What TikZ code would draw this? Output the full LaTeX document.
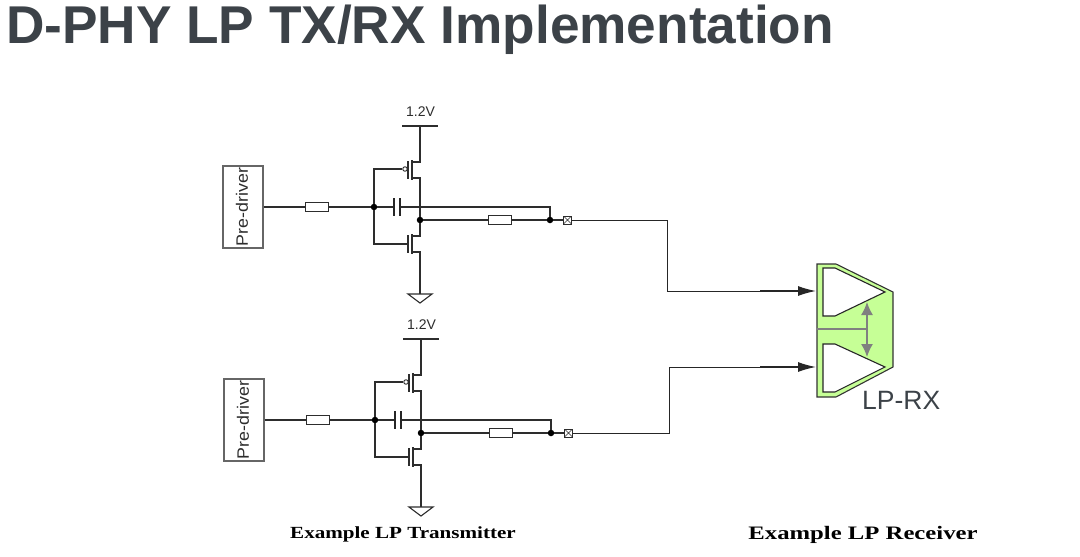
\documentclass[tikz,border=0pt]{standalone}
\usepackage{graphicx}
\usepackage{fontspec}
\setmainfont{Liberation Sans}
\newfontfamily\capfont{Liberation Serif}
\usetikzlibrary{arrows.meta}
\definecolor{c1}{RGB}{198,255,150}
\definecolor{c2}{RGB}{60,66,72}
\definecolor{c3}{RGB}{128,128,128}
\definecolor{c4}{RGB}{45,45,45}
\tikzset{
  wire/.style={c4,line width=1.1pt},
  res/.style={draw=c4,line width=1.1pt,fill=white,minimum width=23pt,minimum height=9pt,inner sep=0pt},
  dot/.style={circle,fill=black,minimum size=6.5pt,inner sep=0pt},
  plate/.style={fill=black!85,minimum width=2.5pt,minimum height=18pt,inner sep=0pt},
  bubble/.style={circle,draw=c4,line width=.9pt,fill=white,minimum size=4.5pt,inner sep=0pt},
  padbox/.style={draw=c4,line width=1pt,fill=white,minimum size=8pt,inner sep=0pt,
    path picture={\draw[c4,line width=.6pt] (path picture bounding box.north west) -- (path picture bounding box.south east)
      (path picture bounding box.north east) -- (path picture bounding box.south west);}},
  predrv/.style={draw=black!60,line width=1.2pt,fill=white,rotate=90,minimum width=82pt,minimum height=40pt,inner sep=0pt,
    font=\fontsize{16.5}{16.5}\selectfont,text=c4},
  thin wire/.style={black!85,line width=.9pt},
  sig/.style={black!85,line width=1.3pt,-{Latex[length=18pt,width=10pt]}},
  capt/.style={font=\capfont\bfseries,inner sep=0pt,anchor=base}
}
\begin{document}
\begin{tikzpicture}[x=1pt,y=-1pt]
  \useasboundingbox (0,0) rectangle (1080,557);
  \node[anchor=base west,inner sep=0pt,text=c2,font=\fontsize{53.2}{54}\selectfont\bfseries] (title) at (6,43) {D-PHY LP TX/RX Implementation};

  % transmitter cells
  \foreach \p/\dx/\dy in {t/0/0,b/1/213}{
    \begin{scope}[shift={(\dx,\dy)},name prefix=\p-]
      \node[predrv] (drv) at (243,207) {\raisebox{2pt}{\scalebox{1.08}[1]{Pre-driver}}};
      \node[res] (rin) at (317,207) {};
      \node[dot] (gn) at (374,207) {};
      \node[plate] (capl) at (394,207) {};
      \node[plate] (capr) at (400,207) {};
      \node[dot] (out) at (420,220) {};
      \node[res] (rout) at (500,220) {};
      \node[dot] (jn) at (550,220) {};
      \node[padbox] (pad) at (567.5,220) {};
      \node[bubble] (pg) at (405,169) {};
      \node[font=\fontsize{14}{14}\selectfont,text=c4,inner sep=0pt] (vlab) at (420.5,112) {1.2V};
      \coordinate (vdd) at (420,126);
      \coordinate (gnd) at (420,294);
      \coordinate (ng) at (408,244);
      \coordinate (ps) at (412,162);
      \coordinate (pd) at (412,178);
      \coordinate (ns) at (412,236);
      \coordinate (nd) at (412,252);

      \draw[wire] (drv) -- (rin);
      \draw[wire] (rin) -- (gn);
      \draw[wire] (gn) -- (capl);
      \draw[wire] (capr) -| (jn);
      \draw[wire] (gn) |- (pg);
      \draw[wire] (gn) |- (ng);
      \draw[wire] (out) -- (rout);
      \draw[wire] (rout) -- (jn);
      \draw[wire] (jn) -- (pad);

      \draw[wire] (vdd) ++(-18,0) -- ++(36,0);
      \draw[wire] (vdd) |- (ps);
      \draw[wire] (pd) -| (out);
      \draw[wire] (out) |- (ns);
      \draw[wire] (nd) -| (gnd);
      \draw[wire,line width=1.5pt] (412,160) -- (412,180);
      \draw[wire,line width=1.5pt] (408,161) -- (408,179);
      \draw[wire,line width=1.5pt] (412,234) -- (412,254);
      \draw[wire,line width=1.5pt] (408,235) -- (408,253);
      \draw[wire] (gnd) ++(-12,0) -- ++(24,0) -- ++(-12,9) -- cycle;
    \end{scope}
  }

  % LP receiver
  \draw[fill=c1,draw=black!80,line width=1.1pt] (817,264) -- (836,264) -- (893,292) -- (893,367) -- (836,397) -- (817,397) -- cycle;
  \draw[fill=white,draw=black!85,line width=1.1pt] (823,268) -- (835,268) -- (885,292) -- (835,316) -- (823,316) -- cycle;
  \draw[fill=white,draw=black!85,line width=1.1pt] (823,344) -- (835,344) -- (885,367) -- (835,392) -- (823,392) -- cycle;
  \coordinate (rxa) at (816,291);
  \coordinate (rxb) at (816,367);
  \coordinate (bar) at (867,329);
  \draw[c3,line width=1.4pt] (816,329) -- (bar);
  \draw[c3,line width=1.4pt,{Latex[length=13pt,width=12pt]}-{Latex[length=13pt,width=12pt]}] (867,302) -- (867,357);
  \node[anchor=west,inner sep=0pt,text=c2,font=\fontsize{26.5}{26.5}\selectfont] (rxlab) at (862,400) {LP-RX};

  \coordinate (wa) at (760,291);
  \coordinate (wb) at (760,367);
  \draw[thin wire] (t-pad) -| (667,291) -- (wa);
  \draw[thin wire] (b-pad) -| (669,367) -- (wb);
  \draw[sig] (wa) -- (rxa);
  \draw[sig] (wb) -- (rxb);

  \node[capt] (txcap) at (403,538) {\fontsize{17}{17}\selectfont\scalebox{1.24}[1]{Example LP Transmitter}};
  \node[capt] (rxcap) at (863,539) {\fontsize{19}{19}\selectfont\scalebox{1.3}[1]{Example LP Receiver}};
\end{tikzpicture}
\end{document}
